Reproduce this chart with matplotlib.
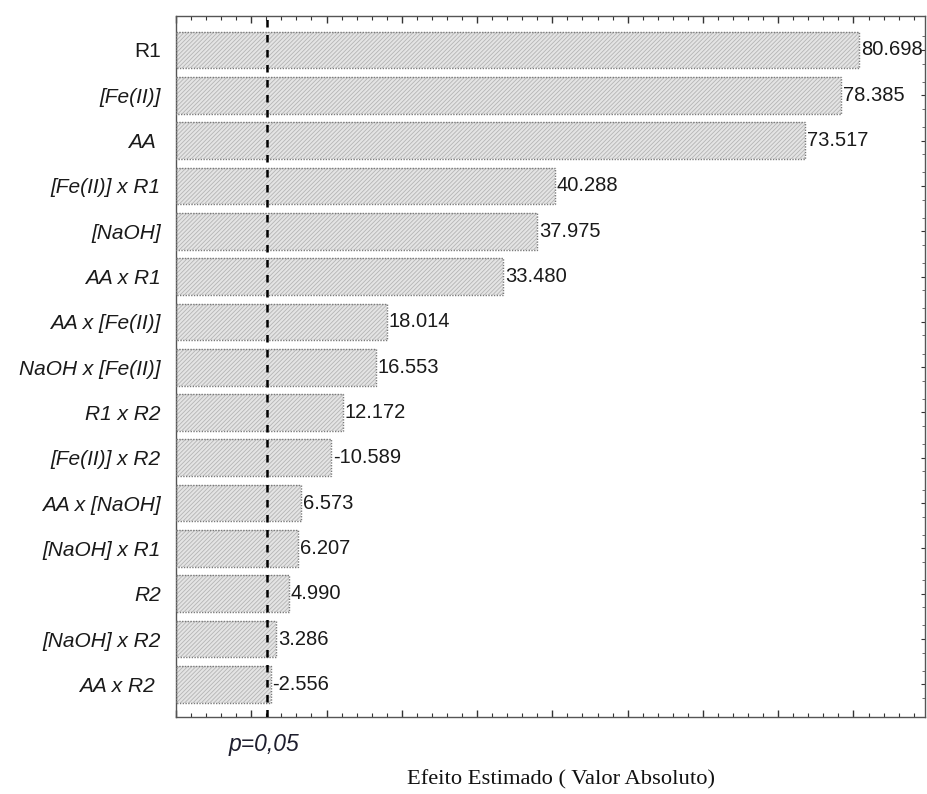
import matplotlib
matplotlib.use("Agg")
import matplotlib.pyplot as plt
import matplotlib.transforms as mtransforms
from matplotlib.ticker import MultipleLocator, FixedLocator, NullFormatter
import numpy as np

# Estimated effects (signed) of each factor / interaction
factors = ["R1", "[Fe(II)]", "AA ", "[Fe(II)] x R1", "[NaOH]", "AA x R1",
           "AA x [Fe(II)]", "NaOH x [Fe(II)]", "R1 x R2", "[Fe(II)] x R2",
           "AA x [NaOH]", "[NaOH] x R1", "R2", "[NaOH] x R2", "AA x R2 "]
effects = [80.698, 78.385, 73.517, 40.288, 37.975, 33.480,
           18.014, 16.553, 12.172, -10.589,
           6.573, 6.207, 4.990, 3.286, -2.556]
critical_t = 2.03          # significance limit for p = 0.05
x_min, x_max = -10, 89.5

plt.rcParams["font.family"] = ["Liberation Sans", "DejaVu Sans"]
plt.rcParams["hatch.linewidth"] = 0.6

fig = plt.figure(figsize=(9.28, 7.94), dpi=100)
ax = fig.add_axes([176 / 928, 77 / 794, 749 / 928, 701 / 794])

ypos = np.arange(len(factors))
absval = np.abs(np.array(effects))

# hatched fill
ax.barh(ypos, absval - x_min, left=x_min, height=0.81,
        color="#e4e4e4", edgecolor="#b4b4b4", linewidth=0,
        hatch="////////", zorder=2)
# dotted outline
ax.barh(ypos, absval - x_min, left=x_min, height=0.81,
        fill=False, edgecolor="#7a7a7a", linewidth=1.0,
        linestyle=(0, (1, 1)), zorder=3)

for y, a, v in zip(ypos, absval, effects):
    ax.annotate(f"{v:.3f}", xy=(a, y), xytext=(1.5, 0), textcoords="offset points",
                ha="left", va="center", fontsize=14.5, color="#1a1a1a")

ax.axvline(critical_t, color="black", linestyle=(0, (3, 3)), linewidth=1.8, zorder=4)

ax.set_xlim(x_min, x_max)
ax.set_ylim(len(factors) - 1 + 0.72, -0.75)

ax.xaxis.set_major_locator(MultipleLocator(10))
ax.xaxis.set_minor_locator(MultipleLocator(2))
ax.xaxis.set_major_formatter(NullFormatter())
ax.tick_params(axis="x", which="both", direction="in", top=True, bottom=True,
               colors="#333333")
ax.tick_params(axis="x", which="major", length=5, width=1)
ax.tick_params(axis="x", which="minor", length=3, width=0.8)

ax.set_yticks(ypos)
ax.set_yticklabels(factors, fontsize=15)
ax.yaxis.set_minor_locator(FixedLocator(np.concatenate([ypos - 0.3, ypos + 0.3])))
ax.tick_params(axis="y", which="major", direction="in", left=True, right=True,
               length=3, width=0.8, pad=11, colors="#333333", labelcolor="#1a1a1a")
ax.tick_params(axis="y", which="minor", direction="in", left=True, right=True,
               length=2, width=0.6, colors="#555555")
for i, lab in enumerate(ax.get_yticklabels()):
    if factors[i] != "R1":
        lab.set_fontstyle("italic")

for s in ax.spines.values():
    s.set_color("#555555")
    s.set_linewidth(1.0)

trans = mtransforms.blended_transform_factory(ax.transData, fig.transFigure)
ax.text(critical_t - 0.4, (794 - 745) / 794, "p=0,05", transform=trans,
        ha="center", va="center", fontsize=16.5, style="italic", color="#1e1e2e")

fig.text(561 / 928, (794 - 780) / 794, "Efeito Estimado ( Valor Absoluto)",
         ha="center", va="center", fontsize=16.2, family="Liberation Serif",
         color="#111111")

fig.savefig("out.png", dpi=100)
